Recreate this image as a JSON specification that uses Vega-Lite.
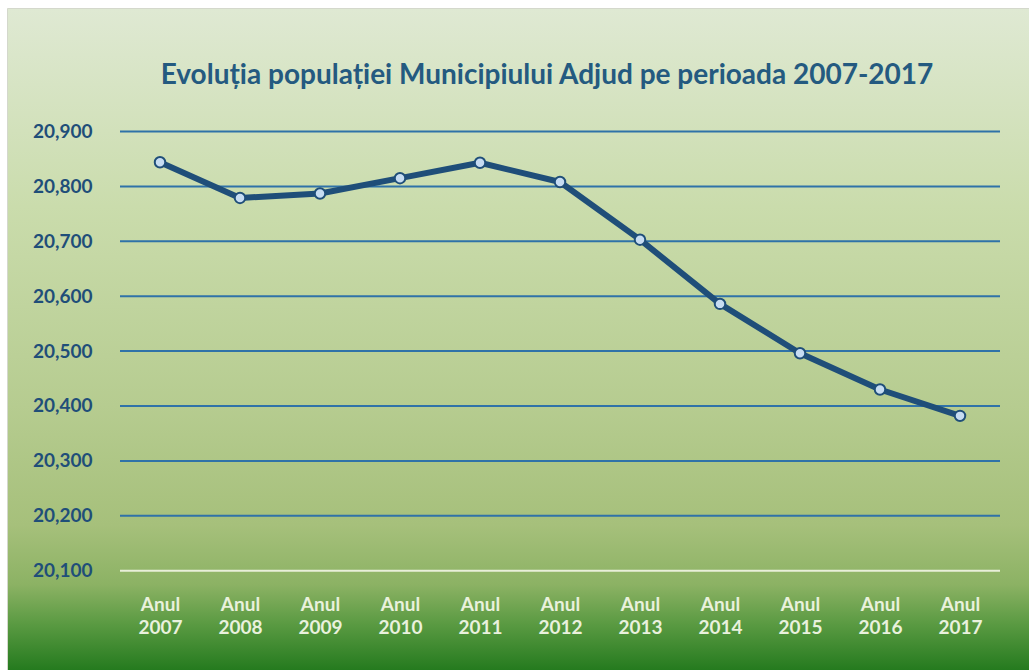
{
  "$schema": "https://vega.github.io/schema/vega-lite/v6.json",
  "autosize": {"type": "none"},
  "padding": {"top": 8, "left": 7, "right": 0, "bottom": 0},
  "width": 1022,
  "height": 662,
  "background": "white",
  "view": {
    "stroke": "#d4d8cc",
    "strokeWidth": 1,
    "fill": {
      "gradient": "linear",
      "x1": 0, "y1": 0, "x2": 0, "y2": 1,
      "stops": [
        {"offset": 0, "color": "#dfe9d3"},
        {"offset": 0.3, "color": "#cadcac"},
        {"offset": 0.6, "color": "#b6cc90"},
        {"offset": 0.78, "color": "#a6c07b"},
        {"offset": 0.87, "color": "#8cb264"},
        {"offset": 0.93, "color": "#5a9a42"},
        {"offset": 1, "color": "#247a1e"}
      ]
    }
  },
  "title": {
    "text": "Evoluția populației Municipiului Adjud pe perioada 2007-2017",
    "font": "Lato",
    "fontSize": 28,
    "fontWeight": "bold",
    "color": "#245a80",
    "anchor": "middle",
    "offset": -82,
    "dx": 29
  },
  "datasets": {
    "pop": [
      {"an": 2007, "populatie": 20844},
      {"an": 2008, "populatie": 20779},
      {"an": 2009, "populatie": 20787},
      {"an": 2010, "populatie": 20815},
      {"an": 2011, "populatie": 20843},
      {"an": 2012, "populatie": 20808},
      {"an": 2013, "populatie": 20703},
      {"an": 2014, "populatie": 20586},
      {"an": 2015, "populatie": 20496},
      {"an": 2016, "populatie": 20430},
      {"an": 2017, "populatie": 20382}
    ],
    "grila": [
      {"v": 20100, "start": 2006.5, "end": 2017.5},
      {"v": 20200, "start": 2006.5, "end": 2017.5},
      {"v": 20300, "start": 2006.5, "end": 2017.5},
      {"v": 20400, "start": 2006.5, "end": 2017.5},
      {"v": 20500, "start": 2006.5, "end": 2017.5},
      {"v": 20600, "start": 2006.5, "end": 2017.5},
      {"v": 20700, "start": 2006.5, "end": 2017.5},
      {"v": 20800, "start": 2006.5, "end": 2017.5},
      {"v": 20900, "start": 2006.5, "end": 2017.5}
    ]
  },
  "layer": [
    {
      "data": {"name": "grila"},
      "mark": {"type": "rule", "strokeWidth": 2},
      "encoding": {
        "x": {
          "field": "start", "type": "quantitative",
          "scale": {"domain": [2005.0875, 2017.8625], "nice": false, "zero": false},
          "axis": {
            "orient": "bottom",
            "offset": -75,
            "values": [2007, 2008, 2009, 2010, 2011, 2012, 2013, 2014, 2015, 2016, 2017],
            "labelExpr": "['Anul', format(datum.value, 'd')]",
            "title": null,
            "domain": false,
            "ticks": false,
            "tickSize": 0,
            "grid": false,
            "labelPadding": 0,
            "labelFont": "Lato",
            "labelFontSize": 19,
            "labelFontWeight": "bold",
            "labelColor": "#e9f1dd",
            "labelLineHeight": 23,
            "labelBaseline": "top",
            "labelFlush": false,
            "labelOverlap": false
          }
        },
        "x2": {"field": "end"},
        "y": {
          "field": "v", "type": "quantitative",
          "scale": {"domain": [19919.1, 21124.95], "nice": false, "zero": false},
          "axis": {
            "orient": "left",
            "offset": -85,
            "values": [20100, 20200, 20300, 20400, 20500, 20600, 20700, 20800, 20900],
            "format": ",d",
            "title": null,
            "domain": false,
            "ticks": false,
            "tickSize": 0,
            "grid": false,
            "labelPadding": 0,
            "labelFont": "Lato",
            "labelFontSize": 19,
            "labelFontWeight": "bold",
            "labelColor": "#1f4e79",
            "labelAlign": "right",
            "labelFlush": false,
            "labelOverlap": false
          }
        },
        "color": {
          "condition": {"test": "datum.v === 20100", "value": "#e8efd9"},
          "value": "#2f72a8"
        }
      }
    },
    {
      "data": {"name": "pop"},
      "mark": {"type": "line", "color": "#1f4e79", "strokeWidth": 6, "strokeJoin": "round", "strokeCap": "round"},
      "encoding": {
        "x": {"field": "an", "type": "quantitative"},
        "y": {"field": "populatie", "type": "quantitative"}
      }
    },
    {
      "data": {"name": "pop"},
      "mark": {"type": "point", "filled": true, "fill": "#c6dcf2", "stroke": "#1f4e79", "strokeWidth": 2, "size": 110, "opacity": 1},
      "encoding": {
        "x": {"field": "an", "type": "quantitative"},
        "y": {"field": "populatie", "type": "quantitative"}
      }
    }
  ]
}
